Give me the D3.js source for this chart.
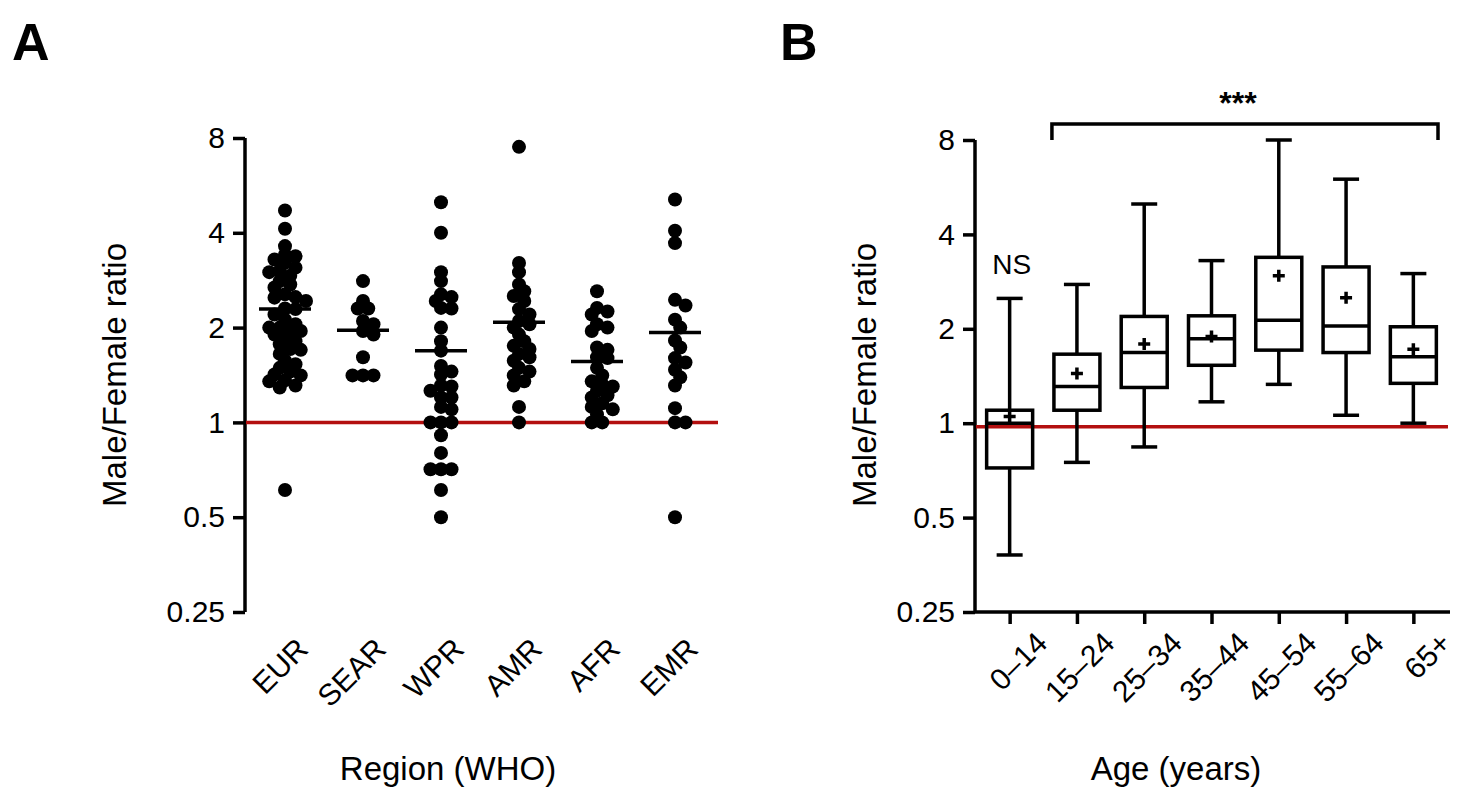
<!DOCTYPE html>
<html>
<head>
<meta charset="utf-8">
<script src="https://cdn.jsdelivr.net/npm/d3@7"></script>
<style>
  body { margin: 0; background: #fff; }
  text { font-family: Arial, "Liberation Sans", sans-serif; }
</style>
</head>
<body>
<svg id="chart" width="1458" height="800"></svg>
<script>
// panel A data (male/female ratio per country, by WHO region)
var regions = ['EUR', 'SEAR', 'WPR', 'AMR', 'AFR', 'EMR'];
var eurVals = [4.71, 4.12, 3.63, 3.41, 3.37, 3.29, 3.21, 3.1, 3.03, 3.0, 2.92, 2.81, 2.74, 2.68, 2.55, 2.5, 2.49,
  2.43, 2.3, 2.29, 2.2, 2.12, 2.05, 2.0, 2.0, 1.95, 1.95, 1.9, 1.86, 1.81, 1.77, 1.71, 1.7, 1.65, 1.57, 1.53,
  1.49, 1.45, 1.42, 1.41, 1.36, 1.35, 1.31, 1.29, 0.61];
var searVals = [2.81, 2.43, 2.3, 2.3, 2.1, 2.05, 1.95, 1.9, 1.61, 1.41, 1.41, 1.41];
var wprVals = [5.0, 4.0, 3.0, 2.81, 2.55, 2.5, 2.43, 2.31, 2.3, 2.0, 1.81, 1.69, 1.51, 1.45, 1.42, 1.31, 1.3,
  1.26, 1.2, 1.2, 1.12, 1.1, 1.0, 1.0, 1.0, 0.91, 0.8, 0.71, 0.71, 0.71, 0.61, 0.5];
var amrVals = [7.5, 3.21, 3.0, 2.74, 2.61, 2.52, 2.43, 2.29, 2.2, 2.1, 2.05, 2.0, 1.9, 1.81, 1.75, 1.71, 1.65,
  1.61, 1.57, 1.49, 1.45, 1.41, 1.35, 1.31, 1.12, 1.0];
var afrVals = [2.61, 2.31, 2.25, 2.2, 2.05, 2.0, 1.95, 1.73, 1.7, 1.61, 1.6, 1.49, 1.41, 1.35, 1.32, 1.3, 1.26,
  1.22, 1.2, 1.15, 1.12, 1.1, 1.06, 1.0, 1.0];
var emrVals = [5.1, 4.06, 3.71, 2.45, 2.35, 2.12, 2.0, 1.82, 1.73, 1.6, 1.55, 1.47, 1.39, 1.31, 1.11, 1.0, 1.0, 0.5];
var regionMeans = [2.29, 1.96, 1.69, 2.08, 1.56, 1.93];

// panel B data (box plots by age group)
var ages = ['0\u201314', '15\u201324', '25\u201334', '35\u201344', '45\u201354', '55\u201364', '65+'];
var ageMin = [0.38, 0.75, 0.84, 1.17, 1.33, 1.06, 1.0];
var ageQ1 = [0.72, 1.1, 1.3, 1.53, 1.71, 1.68, 1.34];
var ageMedian = [1.0, 1.31, 1.68, 1.86, 2.13, 2.04, 1.63];
var ageQ3 = [1.1, 1.66, 2.19, 2.2, 3.38, 3.15, 2.03];
var ageMax = [2.5, 2.77, 5.0, 3.3, 8.0, 6.0, 3.0];
var ageMean = [1.05, 1.44, 1.79, 1.89, 2.95, 2.51, 1.72];

var yTicks = [0.25, 0.5, 1, 2, 4, 8];
var yTickLabels = ['0.25', '0.5', '1', '2', '4', '8'];

var svg = d3.select('#chart');
var red = '#b30f0f';
var sw = 3.5;

function yAxis(g, y) {
  g.call(d3.axisLeft(y).tickValues(yTicks).tickFormat(function(d, i) { return yTickLabels[i]; })
    .tickSize(12).tickPadding(8));
  g.select('.domain').attr('stroke-width', sw).attr('d', 'M0,' + y(8) + 'V' + y(0.25));
  g.selectAll('line').attr('stroke-width', sw);
  g.selectAll('text').attr('font-size', 30).attr('fill', '#000');
}

// ---------- panel A ----------
var xA = d3.scalePoint().domain(regions).range([246, 714]).padding(0.5);
var yA = d3.scaleLog().base(2).domain([0.25, 8]).range([612, 138]);

svg.append('g').attr('transform', 'translate(245,0)').call(yAxis, yA);

svg.append('line').attr('x1', 246).attr('x2', 718)
  .attr('y1', yA(1)).attr('y2', yA(1)).attr('stroke', red).attr('stroke-width', sw);

// simple beeswarm, dots allowed to overlap a bit like the original
var r = 7;
function swarm(vals) {
  var placed = [];
  vals.slice().sort(d3.descending).forEach(function(v) {
    var py = yA(v);
    var offs = [0];
    for (var k = 1; k < 10; k++) { offs.push(k * r * 0.75, -k * r * 0.75); }
    for (var j = 0; j < offs.length; j++) {
      var ok = placed.every(function(p) {
        return Math.hypot(p.dx - offs[j], p.y - py) >= r * 1.15;
      });
      if (ok) { placed.push({dx: offs[j], y: py}); break; }
    }
  });
  return placed;
}

var regionVals = [eurVals, searVals, wprVals, amrVals, afrVals, emrVals];
regionVals.forEach(function(vals, i) {
  var cx = xA(regions[i]);
  svg.append('g').selectAll('circle').data(swarm(vals)).enter()
    .append('circle')
    .attr('cx', function(d) { return cx + d.dx; })
    .attr('cy', function(d) { return d.y; })
    .attr('r', r).attr('fill', '#000');
  svg.append('line').attr('x1', cx - 26).attr('x2', cx + 26)
    .attr('y1', yA(regionMeans[i])).attr('y2', yA(regionMeans[i]))
    .attr('stroke', '#000').attr('stroke-width', sw);
});

// x labels for A (no axis line)
svg.append('g').selectAll('text').data(regions).enter().append('text')
  .attr('transform', function(d) { return 'translate(' + (xA(d) + 10) + ',636) rotate(-45)'; })
  .attr('text-anchor', 'end').attr('dy', '0.7em').attr('font-size', 30).text(function(d) { return d; });

svg.append('text').attr('transform', 'translate(126,375) rotate(-90)')
  .attr('text-anchor', 'middle').attr('font-size', 33).text('Male/Female ratio');
svg.append('text').attr('x', 448).attr('y', 780).attr('text-anchor', 'middle')
  .attr('font-size', 33).text('Region (WHO)');
svg.append('text').attr('x', 12).attr('y', 60).attr('font-size', 52).attr('font-weight', 'bold').text('A');

// ---------- panel B ----------
var xB = d3.scalePoint().domain(ages).range([976, 1447]).padding(0.5);
var yB = d3.scaleLog().base(2).domain([0.25, 8]).range([612, 140]);

svg.append('g').attr('transform', 'translate(975,0)').call(yAxis, yB);

var gx = svg.append('g').attr('transform', 'translate(0,612)')
  .call(d3.axisBottom(xB).tickSize(12).tickPadding(8));
gx.select('.domain').attr('stroke-width', sw).attr('d', 'M975,0H1450');
gx.selectAll('line').attr('stroke-width', sw);
gx.selectAll('text').attr('font-size', 30).attr('fill', '#000')
  .attr('text-anchor', 'end').attr('transform', 'translate(10,4) rotate(-45)').attr('dy', '0.7em');

svg.append('line').attr('x1', 976).attr('x2', 1448)
  .attr('y1', yB(0.975)).attr('y2', yB(0.975)).attr('stroke', red).attr('stroke-width', sw);

var bw = 46, cap = 13;
var boxes = svg.append('g').attr('stroke', '#000').attr('stroke-width', sw).attr('fill', 'none');
ages.forEach(function(a, i) {
  var cx = xB(a);
  boxes.append('line').attr('x1', cx).attr('x2', cx).attr('y1', yB(ageMax[i])).attr('y2', yB(ageQ3[i]));
  boxes.append('line').attr('x1', cx).attr('x2', cx).attr('y1', yB(ageQ1[i])).attr('y2', yB(ageMin[i]));
  boxes.append('line').attr('x1', cx - cap).attr('x2', cx + cap).attr('y1', yB(ageMax[i])).attr('y2', yB(ageMax[i]));
  boxes.append('line').attr('x1', cx - cap).attr('x2', cx + cap).attr('y1', yB(ageMin[i])).attr('y2', yB(ageMin[i]));
  boxes.append('rect').attr('x', cx - bw / 2).attr('width', bw)
    .attr('y', yB(ageQ3[i])).attr('height', yB(ageQ1[i]) - yB(ageQ3[i]));
  boxes.append('line').attr('x1', cx - bw / 2).attr('x2', cx + bw / 2)
    .attr('y1', yB(ageMedian[i])).attr('y2', yB(ageMedian[i]));
  // mean marker
  var my = yB(ageMean[i]);
  boxes.append('path').attr('d', 'M' + (cx - 6) + ',' + my + 'H' + (cx + 6) + 'M' + cx + ',' + (my - 6) + 'V' + (my + 6));
});

// significance bracket
svg.append('path').attr('d', 'M' + (xB(ages[1]) - 25) + ',140V124H1438V140')
  .attr('fill', 'none').attr('stroke', '#000').attr('stroke-width', sw);
svg.append('text').attr('x', 1238).attr('y', 114).attr('text-anchor', 'middle')
  .attr('font-size', 32).attr('font-weight', 'bold').text('***');
svg.append('text').attr('x', xB(ages[0]) + 2).attr('y', 274).attr('text-anchor', 'middle')
  .attr('font-size', 28).text('NS');

svg.append('text').attr('transform', 'translate(876,375) rotate(-90)')
  .attr('text-anchor', 'middle').attr('font-size', 33).text('Male/Female ratio');
svg.append('text').attr('x', 1176).attr('y', 780).attr('text-anchor', 'middle')
  .attr('font-size', 33).text('Age (years)');
svg.append('text').attr('x', 780).attr('y', 60).attr('font-size', 52).attr('font-weight', 'bold').text('B');
</script>
</body>
</html>
